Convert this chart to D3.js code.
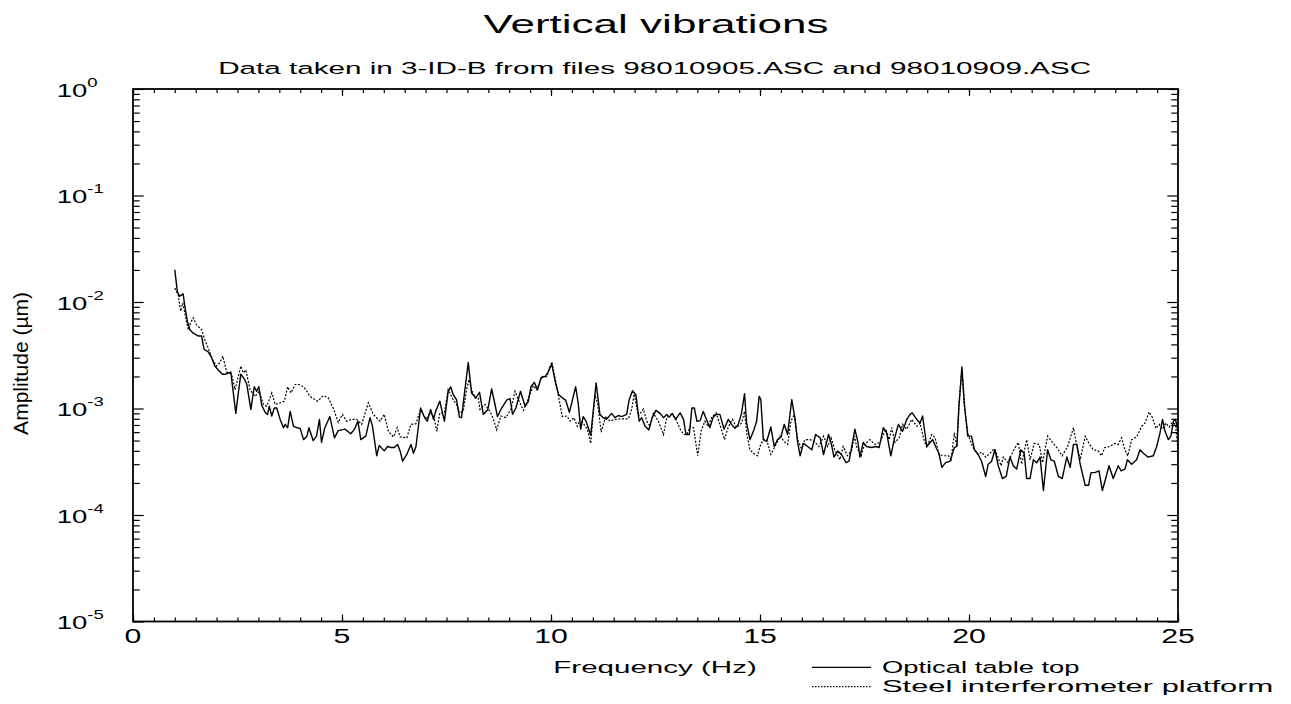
<!DOCTYPE html>
<html><head><meta charset="utf-8">
<script src="https://cdn.jsdelivr.net/npm/d3@7"></script>
<style>html,body{margin:0;padding:0;background:#fff;}svg{display:block;}</style>
</head><body>
<script>
// ---------- data ----------
const titleText = "Vertical vibrations";
const subtitleText = "Data taken in 3-ID-B from files 98010905.ASC and 98010909.ASC";
const xLabelText = "Frequency (Hz)";
const yLabelText = "Amplitude (\u00b5m)";
const seriesNames = ["Optical table top", "Steel interferometer platform"];
const xMajorTicks = [0, 5, 10, 15, 20, 25];
const xMinorTicks = d3.range(0, 25.01, 0.5);
const yDecades = [1e-5, 1e-4, 1e-3, 1e-2, 1e-1, 1];
const yDecadeExp = ["-5", "-4", "-3", "-2", "-1", "0"];

const optFreq = [1.00,1.06,1.11,1.20,1.24,1.30,1.36,1.44,1.56,1.64,1.70,1.80,1.88,1.96,2.04,2.14,2.22,2.34,2.40,2.46,2.52,2.58,2.66,2.72,2.82,2.90,2.96,3.01,3.08,3.17,3.22,3.26,3.32,3.38,3.44,3.52,3.60,3.64,3.70,3.76,3.84,3.92,4.00,4.08,4.16,4.21,4.31,4.39,4.46,4.51,4.59,4.71,4.82,4.91,5.07,5.21,5.30,5.38,5.45,5.57,5.67,5.73,5.83,5.89,6.01,6.09,6.17,6.25,6.33,6.39,6.45,6.55,6.65,6.71,6.77,6.88,6.96,7.04,7.12,7.19,7.24,7.34,7.45,7.54,7.60,7.66,7.74,7.81,7.86,7.94,8.02,8.10,8.20,8.29,8.38,8.49,8.58,8.66,8.72,8.82,8.94,9.02,9.08,9.16,9.27,9.38,9.46,9.52,9.60,9.68,9.76,9.86,9.92,9.98,10.02,10.10,10.18,10.27,10.35,10.44,10.59,10.65,10.71,10.77,10.84,10.95,11.08,11.17,11.25,11.33,11.45,11.53,11.61,11.69,11.81,11.87,11.95,12.03,12.11,12.17,12.25,12.34,12.42,12.51,12.61,12.69,12.77,12.83,12.90,12.98,13.09,13.17,13.23,13.31,13.37,13.43,13.49,13.57,13.64,13.72,13.80,13.88,13.95,14.04,14.14,14.24,14.32,14.40,14.48,14.56,14.63,14.68,14.76,14.86,14.92,14.98,15.02,15.08,15.16,15.26,15.34,15.42,15.50,15.58,15.66,15.76,15.84,15.90,15.96,16.04,16.14,16.24,16.33,16.44,16.52,16.64,16.71,16.77,16.86,16.95,17.06,17.13,17.19,17.27,17.34,17.39,17.47,17.55,17.67,17.77,17.85,17.95,18.03,18.13,18.21,18.31,18.41,18.51,18.59,18.64,18.75,18.83,18.89,18.99,19.07,19.13,19.20,19.28,19.35,19.44,19.55,19.65,19.71,19.76,19.83,19.89,19.97,20.06,20.13,20.22,20.30,20.40,20.46,20.54,20.62,20.70,20.80,20.89,20.98,21.06,21.14,21.24,21.32,21.38,21.46,21.54,21.62,21.70,21.78,21.88,21.96,22.04,22.14,22.23,22.34,22.42,22.50,22.58,22.66,22.78,22.86,22.92,23.01,23.11,23.19,23.27,23.35,23.45,23.57,23.64,23.73,23.79,23.89,24.01,24.09,24.17,24.28,24.41,24.49,24.57,24.63,24.69,24.77,24.83,24.89,24.94,25.00];
const optAmp = [0.0201,0.0126,0.0113,0.0119,0.0091,0.0066,0.0055,0.0051,0.0048,0.0048,0.0036,0.0034,0.0030,0.0025,0.0023,0.0021,0.0021,0.0022,0.0014,0.00090,0.0014,0.0021,0.0019,0.0017,0.00098,0.0016,0.00145,0.0016,0.00107,0.00091,0.00088,0.00105,0.00085,0.00101,0.00101,0.00079,0.00066,0.00071,0.00066,0.00094,0.00068,0.00066,0.00065,0.00051,0.00055,0.00066,0.00050,0.00055,0.00079,0.00048,0.00066,0.00084,0.00053,0.00062,0.00064,0.00058,0.00064,0.00076,0.00051,0.00055,0.00082,0.00068,0.00036,0.00045,0.00040,0.00044,0.00043,0.00043,0.00046,0.00040,0.00032,0.00037,0.00046,0.00038,0.00044,0.00101,0.00085,0.00076,0.00098,0.00079,0.00094,0.00117,0.00076,0.00145,0.0016,0.00135,0.00121,0.00083,0.00082,0.0015,0.0027,0.0014,0.00126,0.00142,0.00088,0.00098,0.00153,0.00109,0.00084,0.00101,0.0012,0.00124,0.00088,0.00101,0.00145,0.00105,0.00117,0.0016,0.00176,0.0015,0.00194,0.0020,0.00216,0.00244,0.0026,0.0018,0.00135,0.00126,0.0012,0.00092,0.0016,0.00113,0.00064,0.00084,0.00076,0.00056,0.00174,0.00088,0.00082,0.00079,0.0009,0.00082,0.00086,0.00084,0.00088,0.00121,0.00147,0.00135,0.00076,0.00082,0.00068,0.00063,0.00082,0.00096,0.0009,0.00082,0.00088,0.00083,0.0009,0.00079,0.00091,0.00079,0.00057,0.00057,0.00101,0.00101,0.00076,0.00077,0.00094,0.00079,0.00066,0.00083,0.00088,0.00088,0.00064,0.00079,0.00071,0.00065,0.00071,0.00091,0.00138,0.00073,0.00051,0.00064,0.00076,0.0013,0.00121,0.00051,0.00049,0.00067,0.00044,0.00051,0.00054,0.00071,0.00057,0.00121,0.00079,0.00048,0.00036,0.00047,0.00044,0.00041,0.00057,0.00053,0.00037,0.00057,0.00046,0.00035,0.00040,0.00037,0.00031,0.00032,0.00043,0.00064,0.00049,0.00035,0.00048,0.00044,0.00043,0.00044,0.00043,0.00066,0.00059,0.00036,0.00051,0.00071,0.00061,0.00079,0.00088,0.00091,0.00079,0.00073,0.00085,0.00044,0.00048,0.00051,0.00044,0.00038,0.00028,0.00031,0.00032,0.00043,0.00044,0.00105,0.00246,0.00109,0.00055,0.00055,0.00041,0.00037,0.00032,0.00023,0.00030,0.00032,0.00041,0.00029,0.00022,0.00023,0.00035,0.00029,0.00027,0.00041,0.00038,0.00022,0.00022,0.00033,0.00031,0.00035,0.00017,0.00041,0.00033,0.00032,0.00023,0.00022,0.00035,0.00028,0.00046,0.00046,0.00030,0.00019,0.00019,0.00025,0.00025,0.00026,0.00017,0.00022,0.00029,0.00022,0.00029,0.00026,0.00027,0.00033,0.00030,0.00033,0.00041,0.00038,0.00035,0.00036,0.00044,0.00059,0.00079,0.00061,0.00051,0.00055,0.00076,0.00079,0.00061];

const steelFreq = [1.00,1.08,1.14,1.19,1.24,1.32,1.38,1.44,1.52,1.64,1.72,1.80,1.90,2.00,2.08,2.15,2.24,2.36,2.44,2.52,2.58,2.64,2.70,2.80,2.92,3.02,3.12,3.20,3.32,3.40,3.52,3.62,3.70,3.78,3.88,3.97,4.08,4.16,4.23,4.42,4.55,4.67,4.79,4.91,5.01,5.11,5.23,5.35,5.47,5.63,5.75,5.91,6.01,6.11,6.23,6.32,6.39,6.55,6.65,6.77,6.88,7.00,7.11,7.19,7.27,7.34,7.45,7.54,7.66,7.74,7.81,7.90,7.98,8.04,8.10,8.18,8.26,8.30,8.42,8.54,8.62,8.70,8.80,8.92,9.04,9.14,9.22,9.34,9.42,9.48,9.58,9.66,9.78,9.90,9.95,10.02,10.08,10.18,10.27,10.38,10.46,10.55,10.63,10.69,10.79,10.87,10.95,11.05,11.12,11.20,11.31,11.41,11.53,11.69,11.85,11.93,11.99,12.09,12.21,12.29,12.37,12.45,12.57,12.69,12.77,12.87,12.97,13.09,13.17,13.25,13.33,13.41,13.51,13.59,13.68,13.76,13.84,13.95,14.04,14.15,14.24,14.34,14.44,14.56,14.63,14.68,14.76,14.84,14.94,15.00,15.08,15.16,15.26,15.36,15.48,15.58,15.66,15.74,15.82,15.90,15.98,16.08,16.20,16.32,16.41,16.52,16.62,16.70,16.79,16.91,16.99,17.09,17.19,17.26,17.31,17.42,17.50,17.63,17.75,17.87,18.01,18.09,18.15,18.23,18.33,18.41,18.51,18.63,18.75,18.83,18.91,18.99,19.11,19.19,19.28,19.39,19.51,19.57,19.65,19.71,19.76,19.83,19.89,19.97,20.08,20.22,20.30,20.40,20.50,20.61,20.69,20.77,20.82,20.93,21.06,21.18,21.26,21.38,21.46,21.56,21.68,21.76,21.88,21.98,22.10,22.23,22.36,22.50,22.58,22.66,22.78,22.87,22.97,23.09,23.17,23.25,23.37,23.49,23.57,23.65,23.73,23.80,23.89,24.01,24.13,24.21,24.31,24.39,24.47,24.55,24.63,24.71,24.79,24.86,24.94,25.00];
const steelAmp = [0.0135,0.0117,0.0082,0.0098,0.0079,0.0055,0.0064,0.0071,0.0061,0.0055,0.0044,0.0037,0.0029,0.0025,0.0027,0.0031,0.0022,0.0021,0.0015,0.0020,0.0025,0.00216,0.0023,0.0015,0.0013,0.00145,0.00109,0.00105,0.0014,0.00109,0.00113,0.00117,0.0016,0.0014,0.00168,0.00168,0.0016,0.00145,0.0013,0.00117,0.00132,0.00126,0.00101,0.00074,0.00088,0.00076,0.00079,0.00079,0.00071,0.00113,0.00088,0.00076,0.00088,0.00061,0.00054,0.00066,0.00054,0.00053,0.00071,0.00072,0.00098,0.00079,0.00091,0.00085,0.00061,0.00091,0.00091,0.0015,0.00121,0.00109,0.00091,0.00094,0.0015,0.00187,0.0015,0.00126,0.00126,0.00098,0.00109,0.00094,0.0008,0.00063,0.00085,0.00082,0.00098,0.00145,0.00121,0.00096,0.00113,0.00132,0.00164,0.0015,0.0020,0.00198,0.0023,0.00274,0.0021,0.0013,0.00084,0.00085,0.00076,0.00082,0.00068,0.00079,0.00071,0.00064,0.00047,0.00135,0.00109,0.0006,0.00085,0.00076,0.00079,0.0008,0.0008,0.00098,0.00137,0.00085,0.00099,0.00076,0.00068,0.0009,0.00076,0.00057,0.00082,0.00088,0.00082,0.00064,0.00057,0.00057,0.00068,0.00066,0.00036,0.00061,0.00076,0.00068,0.00082,0.00091,0.00071,0.00051,0.00067,0.00079,0.00066,0.00073,0.00094,0.00059,0.00041,0.00038,0.00036,0.00044,0.00051,0.00051,0.00037,0.00044,0.00055,0.00049,0.00046,0.00076,0.00088,0.00051,0.00043,0.00051,0.00051,0.00048,0.00044,0.00055,0.00044,0.00053,0.00041,0.00033,0.00044,0.00036,0.0004,0.00055,0.00044,0.00036,0.00046,0.00051,0.00046,0.00048,0.00064,0.00051,0.00066,0.00048,0.00053,0.00071,0.00064,0.00079,0.00068,0.00073,0.00053,0.00043,0.00057,0.00053,0.00037,0.00036,0.00036,0.00033,0.00059,0.00044,0.00113,0.0023,0.00105,0.00059,0.00044,0.00037,0.00039,0.00035,0.00038,0.00042,0.00035,0.00029,0.00035,0.00031,0.0004,0.00048,0.0003,0.00051,0.00033,0.00047,0.00046,0.00031,0.00055,0.00049,0.00043,0.00036,0.00044,0.00066,0.00044,0.00033,0.00055,0.00047,0.00041,0.0004,0.00036,0.00043,0.00044,0.00047,0.00046,0.00053,0.00041,0.00036,0.00051,0.00054,0.00068,0.00073,0.00093,0.00082,0.00065,0.00071,0.00064,0.00073,0.00067,0.00074,0.00071,0.00041];

// ---------- layout ----------
const W = 1291, H = 704;
const FONT = "'Liberation Sans', Arial, Helvetica, sans-serif";
const svg = d3.select("body").append("svg").attr("width", W).attr("height", H)
  .style("font-family", FONT);

const x = d3.scaleLinear().domain([0, 25]).range([133, 1178]);
const y = d3.scaleLog().domain([1e-5, 1]).range([621.5, 89]);

// ticks via d3 axes (inward)
const yMinor = [];
yDecades.slice(0, -1).forEach(d => { for (let k = 2; k <= 9; k++) yMinor.push(k * d); });

function styleAxis(g) {
  g.select(".domain").remove();
  g.selectAll(".tick line").attr("stroke", "#000").attr("stroke-width", 1.2);
  g.selectAll(".tick text").remove();
}
svg.append("g").attr("transform", `translate(0,${y(1e-5)})`)
  .call(d3.axisBottom(x).tickValues(xMajorTicks).tickSize(-7).tickFormat("")).call(styleAxis);
svg.append("g").attr("transform", `translate(0,${y(1e-5)})`)
  .call(d3.axisBottom(x).tickValues(xMinorTicks).tickSize(-4).tickFormat("")).call(styleAxis);
svg.append("g").attr("transform", `translate(0,${y(1)})`)
  .call(d3.axisTop(x).tickValues(xMajorTicks).tickSize(-7).tickFormat("")).call(styleAxis);
svg.append("g").attr("transform", `translate(0,${y(1)})`)
  .call(d3.axisTop(x).tickValues(xMinorTicks).tickSize(-4).tickFormat("")).call(styleAxis);
svg.append("g").attr("transform", `translate(${x(0)},0)`)
  .call(d3.axisLeft(y).tickValues(yDecades).tickSize(-10.7).tickFormat("")).call(styleAxis);
svg.append("g").attr("transform", `translate(${x(0)},0)`)
  .call(d3.axisLeft(y).tickValues(yMinor).tickSize(-6.7).tickFormat("")).call(styleAxis);
svg.append("g").attr("transform", `translate(${x(25)},0)`)
  .call(d3.axisRight(y).tickValues(yDecades).tickSize(-10.7).tickFormat("")).call(styleAxis);
svg.append("g").attr("transform", `translate(${x(25)},0)`)
  .call(d3.axisRight(y).tickValues(yMinor).tickSize(-6.7).tickFormat("")).call(styleAxis);

// frame
svg.append("rect").attr("x", x(0)).attr("y", y(1))
  .attr("width", x(25) - x(0)).attr("height", y(1e-5) - y(1))
  .attr("fill", "none").attr("stroke", "#000").attr("stroke-width", 1.8);

// series
const line = d3.line().x(d => x(d[0])).y(d => y(d[1]));
const steelData = steelFreq.map((f, i) => [f, steelAmp[i]]);
const optData = optFreq.map((f, i) => [f, optAmp[i]]);
svg.append("path").datum(steelData).attr("d", line).attr("fill", "none")
  .attr("stroke", "#000").attr("stroke-width", 1.2).attr("stroke-dasharray", "2,1.6");
svg.append("path").datum(optData).attr("d", line).attr("fill", "none")
  .attr("stroke", "#000").attr("stroke-width", 1.4).attr("stroke-linejoin", "round");

// stretched text helper
function stext(px, py, str, size, anchor, opt) {
  const g = svg.append("g");
  const t = g.append("text").attr("font-size", size).attr("text-anchor", anchor).attr("fill", "#000").text(str);
  let sx = opt.sx || 1;
  if (opt.width) sx = opt.width / t.node().getComputedTextLength();
  g.attr("transform", `translate(${px},${py}) scale(${sx},1)`);
  return g;
}

stext(656, 33.3, titleText, 25.6, "middle", {width: 345});
stext(654.6, 74, subtitleText, 17.2, "middle", {width: 873});
stext(655, 673.3, xLabelText, 17.2, "middle", {width: 203.5});

// x tick labels
xMajorTicks.forEach(v => stext(x(v), 643.3, String(v), 19.5, "middle", {sx: 1.55}));

// y tick labels 10^n
yDecades.forEach((v, i) => {
  const g = svg.append("g").attr("transform", `translate(56.7,${y(v)}) scale(1.48,1)`);
  const t = g.append("text").attr("y", 7.7).attr("fill", "#000");
  t.append("tspan").attr("font-size", 18.6).text("10");
  t.append("tspan").attr("font-size", 12.5).attr("dy", -10).text(yDecadeExp[i]);
});

// y axis title
svg.append("text").attr("transform", "translate(28.3,363.4) rotate(-90)")
  .attr("text-anchor", "middle").attr("font-size", 20).attr("textLength", 143)
  .attr("lengthAdjust", "spacingAndGlyphs").text(yLabelText);

// legend
svg.append("line").attr("x1", 812).attr("x2", 871).attr("y1", 667.3).attr("y2", 667.3)
  .attr("stroke", "#000").attr("stroke-width", 1.2);
svg.append("line").attr("x1", 812).attr("x2", 871).attr("y1", 686.7).attr("y2", 686.7)
  .attr("stroke", "#000").attr("stroke-width", 1.2).attr("stroke-dasharray", "1.5,1.5");
stext(882, 673.3, seriesNames[0], 17.2, "start", {width: 197.5});
stext(882, 691.7, seriesNames[1], 17.2, "start", {width: 391});
</script>
</body></html>
